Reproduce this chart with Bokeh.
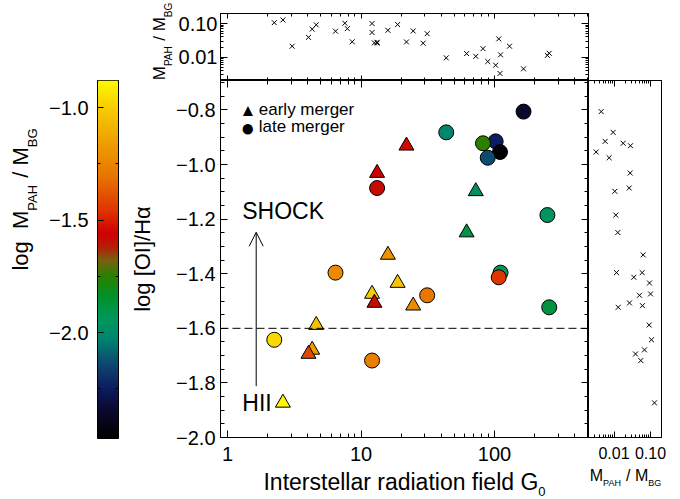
import numpy as np
from math import pi
from bokeh.plotting import figure
from bokeh.layouts import row, column
from bokeh.models import (ColumnDataSource, LinearColorMapper, LinearAxis, LogAxis, FixedTicker,
                          CustomJSTickFormatter, Span, Label, Arrow, OpenHead, Range1d)
from bokeh.embed import file_html
from bokeh.resources import INLINE

FONT = "Liberation Sans"
DESCENT = 0.212          # font descent, in em, used to sit text on its baseline

# ---------------------------------------------------------------- data
# galaxies with a [OI]/Halpha measurement
g0 = [165, 43.5, 102, 82, 21.9, 110, 89, 13.2, 13.2, 72.4, 249, 61.8, 15.9, 111,
      6.44, 107.6, 18.8, 31.3, 12.1, 12.6, 24.6, 257, 4.62, 2.24, 4.31, 4.04, 12.1, 2.6]
log_oi_ha = [-0.806, -0.882, -0.915, -0.922, -0.931, -0.954, -0.975, -1.031, -1.086, -1.098,
             -1.185, -1.249, -1.331, -1.396, -1.396, -1.413, -1.434, -1.479, -1.474, -1.507,
             -1.517, -1.523, -1.588, -1.642, -1.679, -1.694, -1.718, -1.873]
log_pah_bg = [-2.351, -2.023, -2.242, -1.749, -1.548, -2.489, -2.133, -1.557, -1.584, -1.978,
              -1.951, -1.896, -1.201, -1.932, -1.228, -1.457, -1.028, -1.302, -0.999, -1.576,
              -1.220, -1.886, -1.037, -0.973, -1.165, -1.411, -1.266, -0.891]
stage = ["late", "late", "late", "late", "early", "late", "late", "early", "late", "early",
         "late", "early", "early", "late", "late", "late", "early", "late", "early", "early",
         "early", "late", "early", "late", "early", "early", "late", "early"]

# galaxies without [OI]/Halpha (top panel only)
g0_extra = [3.05, 7.57, 7.9, 8.59, 29.2, 129.5]
log_pah_bg_extra = [-1.675, -0.99, -1.15, -1.544, -1.586, -1.675]

# axis ticks
g0_ticks = [1, 10, 100]
g0_minor = [2, 3, 4, 5, 6, 7, 8, 9, 20, 30, 40, 50, 60, 70, 80, 90, 200, 300, 400, 500]
oi_ticks = [-2.0, -1.8, -1.6, -1.4, -1.2, -1.0, -0.8]
ratio_ticks = [0.01, 0.1]
ratio_minor = [0.002, 0.003, 0.004, 0.005, 0.006, 0.007, 0.008, 0.009,
               0.02, 0.03, 0.04, 0.05, 0.06, 0.07, 0.08, 0.09, 0.2]
cb_ticks = [-2.0, -1.5, -1.0]
cb_minor = [-2.25, -1.75, -1.25]

# colour scale
cmap_low, cmap_high = -2.47, -0.88
cmap_levels = [-2.47, -2.34, -2.25, -2.14, -2.03, -1.94, -1.84, -1.75, -1.68,
               -1.62, -1.56, -1.45, -1.30, -1.15, -1.00, -0.88]
cmap_rgb = [(0, 0, 0), (10, 10, 48), (12, 28, 96), (14, 72, 112), (0, 132, 112),
            (0, 150, 92), (0, 146, 40), (40, 128, 0), (118, 98, 16),
            (180, 30, 6), (208, 0, 0), (222, 56, 0), (232, 118, 0), (238, 160, 0),
            (246, 204, 0), (255, 248, 0)]

divider_oi = -1.6
shock_xy = (1.29, -1.217)
hii_xy = (1.29, -1.922)
arrow_x, arrow_y0, arrow_y1 = 1.64, -1.812, -1.248

# ---------------------------------------------------------------- palette
levels = np.linspace(cmap_low, cmap_high, 256)
chan = [np.interp(levels, cmap_levels, [c[i] for c in cmap_rgb]) for i in range(3)]
palette = ["#%02x%02x%02x" % (int(round(r)), int(round(g)), int(round(b)))
           for r, g, b in zip(*chan)]
mapper = LinearColorMapper(palette=palette, low=cmap_low, high=cmap_high)

# ---------------------------------------------------------------- helpers
ARIAL = dict(zip("abcdefghijklmnopqrstuvwxyz",
                 [556, 556, 500, 556, 556, 278, 556, 556, 222, 222, 500, 222, 833, 556, 556,
                  556, 556, 333, 500, 278, 556, 500, 722, 500, 500, 500]))
ARIAL.update(dict(zip("ABCDEFGHIJKLMNOPQRSTUVWXYZ",
                      [667, 667, 722, 722, 667, 611, 778, 722, 278, 500, 667, 556, 833, 722,
                       778, 667, 778, 722, 667, 611, 722, 667, 944, 667, 667, 611])))
ARIAL.update({" ": 278, "/": 278, "[": 278, "]": 278, ".": 278, "0": 556, "\u03b1": 578})


def text_width(s, size):
    return sum(ARIAL.get(c, 556) for c in s) * size / 1000.0


def label_fig(w, h, left=0, right=0):
    """Blank figure used to hold axis titles (borders mirror the panel next to it)."""
    f = figure(width=w, height=h, title=None, x_axis_location=None, y_axis_location=None,
               output_backend="svg", toolbar_location=None,
               min_border_left=left, min_border_right=right, min_border_top=0, min_border_bottom=0)
    f.outline_line_color = None
    f.background_fill_color = "white"
    f.border_fill_color = "white"
    return f


def add_run(fig, frame_left, frame_bottom, pieces, anchor, vertical=False, sub_drop=0.38):
    """Draw a run of text pieces (text, size, is_subscript); anchor is page coords:
    horizontal -> (centre x, baseline y), vertical -> (baseline x, centre y)."""
    main_size = max(s for _, s, _ in pieces)
    widths = [text_width(t, s) for t, s, _ in pieces]
    total = sum(widths)
    a0, a1 = anchor
    off = 0.0
    for (t, s, sub), w in zip(pieces, widths):
        if t.strip():
            shift = (sub_drop * main_size if sub else 0.0) + DESCENT * s
            if vertical:
                X, Y = a0 + shift, a1 + total / 2 - off
            else:
                X, Y = a0 - total / 2 + off, a1 + shift
            fig.add_layout(Label(x=X - frame_left, y=frame_bottom - Y,
                                 x_units="screen", y_units="screen", text=t,
                                 angle=pi / 2 if vertical else 0, text_font=FONT,
                                 text_font_size=f"{s}px", text_align="left",
                                 text_baseline="bottom", text_color="black"))
        off += w


def style_axis(ax, major=7, minor=4, size="20px", standoff=5):
    ax.major_tick_in = major
    ax.major_tick_out = 0
    ax.minor_tick_in = minor
    ax.minor_tick_out = 0
    ax.axis_line_color = "black"
    ax.major_tick_line_color = "black"
    ax.minor_tick_line_color = "black"
    ax.major_label_text_font = FONT
    ax.major_label_text_font_size = size
    ax.major_label_text_color = "black"
    ax.major_label_standoff = standoff


def bare(ax):
    ax.major_label_text_font_size = "0px"
    ax.major_label_standoff = 0
    ax.formatter = CustomJSTickFormatter(code="return ''")


def base_style(p):
    p.outline_line_color = "black"
    p.outline_line_width = 1
    p.xgrid.visible = False
    p.ygrid.visible = False
    p.background_fill_color = "white"
    p.border_fill_color = "white"


one_dec = CustomJSTickFormatter(code="return (tick < 0 ? '\u2212' : '') + Math.abs(tick).toFixed(1)")
two_dec = CustomJSTickFormatter(code="return tick.toFixed(2)")
int_fmt = CustomJSTickFormatter(code="return tick.toFixed(0)")

oi_minor = [round(v, 2) for v in np.arange(-2.0, -0.69, 0.05)
            if min(abs(v - t) for t in oi_ticks) > 1e-6]

x_range = Range1d(0.886, 506)
y_range = Range1d(-2.0, -0.692)

MAIN_SUB = [("M", 0, False), ("PAH", 1, True), (" ", 0, False), ("/", 0, False),
            (" ", 0, False), ("M", 0, False), ("BG", 1, True)]


def mpah(big, small):
    return [(t, small if k else big, sub) for t, k, sub in MAIN_SUB]


# ---------------------------------------------------------------- main panel
# frame: x 220..588, y 80..437 on the page
main = figure(width=423, height=389, x_axis_type="log", x_range=x_range, y_range=y_range,
              output_backend="svg", toolbar_location=None,
              min_border_left=55, min_border_right=0, min_border_top=0, min_border_bottom=32)
base_style(main)
main.add_layout(LogAxis(), "above")
main.add_layout(LinearAxis(), "right")
for ax in main.xaxis:
    style_axis(ax, standoff=9)
    ax.ticker = FixedTicker(ticks=g0_ticks, minor_ticks=g0_minor)
    ax.formatter = int_fmt
for ax in main.yaxis:
    style_axis(ax, standoff=5)
    ax.ticker = FixedTicker(ticks=oi_ticks, minor_ticks=oi_minor)
    ax.formatter = one_dec
bare(main.above[0])
bare(main.right[0])

main.add_layout(Span(location=divider_oi, dimension="width", line_color="black",
                     line_width=1, line_dash="8 4"))
main.add_layout(Arrow(end=OpenHead(size=14, line_width=1, line_color="black"),
                      x_start=arrow_x, y_start=arrow_y0, x_end=arrow_x, y_end=arrow_y1,
                      line_width=1, line_color="black"))
for (lx, ly), txt in [(shock_xy, "SHOCK"), (hii_xy, "HII")]:
    main.add_layout(Label(x=lx, y=ly, text=txt, text_font=FONT, text_font_size="23px",
                          text_baseline="bottom", text_color="black"))


def subset(kind):
    idx = [i for i, s in enumerate(stage) if s == kind]
    return ColumnDataSource(dict(g0=[g0[i] for i in idx], oi=[log_oi_ha[i] for i in idx],
                                 pah=[log_pah_bg[i] for i in idx]))


fill = dict(field="pah", transform=mapper)
main.scatter("g0", "oi", source=subset("early"), marker="triangle", size=15,
             fill_color=fill, line_color="black", line_width=1)
main.scatter("g0", "oi", source=subset("late"), marker="circle", size=15,
             fill_color=fill, line_color="black", line_width=1)

# legend (symbol + text); symbol rows centred at page y 110.7 and 127.3
MF_L, MF_B = 220, 437
for sym, sym_size, sym_box_bottom, lab, lab_base in [("\u25b2", 17, 119.2, "early merger", 115),
                                                     ("\u25cf", 24, 140.7, "late merger", 131.7)]:
    main.add_layout(Label(x=247.3 - MF_L, y=MF_B - sym_box_bottom, x_units="screen",
                          y_units="screen", text=sym, text_font=FONT,
                          text_font_size=f"{sym_size}px", text_align="center",
                          text_baseline="bottom", text_color="black"))
    main.add_layout(Label(x=258.3 - MF_L, y=MF_B - (lab_base + DESCENT * 17), x_units="screen",
                          y_units="screen", text=lab, text_font=FONT, text_font_size="17px",
                          text_align="left", text_baseline="bottom", text_color="black"))

# axis titles of the main panel
main_ytitle = label_fig(35, 419)                   # page x 130..165, y 80..499
add_run(main_ytitle, 130, 499, [("log [OI]/H\u03b1", 22, False)], (150, 258.5), vertical=True)
main_xtitle = label_fig(423, 30, left=55)          # frame page x 220..588, y 469..499
add_run(main_xtitle, 220, 499, [("Interstellar radiation field G", 23, False), ("0", 13, True)],
        (404, 490), sub_drop=0.1)

# ---------------------------------------------------------------- top panel
# frame: x 220..588, y 13..80
top = figure(width=505, height=80, x_axis_type="log", y_axis_type="log", x_range=x_range,
             y_range=Range1d(0.002, 0.2), output_backend="svg", toolbar_location=None,
             min_border_left=45, min_border_right=92, min_border_top=13, min_border_bottom=0)
base_style(top)
top.add_layout(LogAxis(), "above")
top.add_layout(LogAxis(), "right")
for ax in top.xaxis:
    style_axis(ax, major=5, minor=3)
    ax.ticker = FixedTicker(ticks=g0_ticks, minor_ticks=g0_minor)
    bare(ax)
for ax in top.yaxis:
    style_axis(ax, major=7, minor=3, standoff=3)
    ax.ticker = FixedTicker(ticks=ratio_ticks, minor_ticks=ratio_minor)
    ax.formatter = two_dec
bare(top.right[0])
top.scatter(g0 + g0_extra, [10 ** v for v in log_pah_bg + log_pah_bg_extra],
            marker="x", size=7, line_color="black", line_width=1)
top_ytitle = label_fig(45, 80)                     # page x 130..175, y 0..80
add_run(top_ytitle, 130, 80, mpah(17, 10), (165, 41), vertical=True)

# ---------------------------------------------------------------- right panel
# frame: x 588..661, y 80..437
right = figure(width=92, height=384, x_axis_type="log", x_range=Range1d(0.002, 0.2),
               y_range=y_range, y_axis_location=None, output_backend="svg",
               toolbar_location=None, min_border_left=0, min_border_right=19,
               min_border_top=0, min_border_bottom=27)
base_style(right)
right.add_layout(LogAxis(), "above")
for ax in right.xaxis:
    style_axis(ax, major=6, minor=3, size="16px", standoff=9)
    ax.ticker = FixedTicker(ticks=ratio_ticks, minor_ticks=ratio_minor)
    ax.formatter = two_dec
bare(right.above[0])
right.scatter([10 ** v for v in log_pah_bg], log_oi_ha, marker="x", size=7,
              line_color="black", line_width=1)
right_xtitle = label_fig(92, 35, right=19)         # frame page x 588..661, y 464..499
add_run(right_xtitle, 588, 499, mpah(16, 9), (625, 480))

# ---------------------------------------------------------------- colour bar
# bar: x 97..118, y 80..438
cb = figure(width=85, height=499, x_range=Range1d(0, 1), y_range=Range1d(cmap_low, cmap_high),
            x_axis_location=None, output_backend="svg", toolbar_location=None,
            min_border_left=52, min_border_right=12, min_border_top=80, min_border_bottom=61)
base_style(cb)
grad = np.linspace(cmap_low, cmap_high, 256).reshape(-1, 1)
cb.image(image=[grad], x=0, y=cmap_low, dw=1, dh=cmap_high - cmap_low, color_mapper=mapper)
cb.add_layout(LinearAxis(), "right")
for ax in cb.yaxis:
    style_axis(ax, major=6, minor=3, standoff=9)
    ax.ticker = FixedTicker(ticks=cb_ticks, minor_ticks=cb_minor)
    ax.formatter = one_dec
cb.right[0].ticker = FixedTicker(ticks=cb_minor, minor_ticks=[])
cb.right[0].major_tick_in = 3
bare(cb.right[0])
cb_title = label_fig(45, 499)                      # page x 0..45
add_run(cb_title, 0, 499, [("log", 22, False), ("  ", 22, False)] + mpah(22, 13), (28, 260),
        vertical=True)

layout = row(cb_title, cb,
             column(row(top_ytitle, column(top)),
                    row(main_ytitle,
                        column(main, main_xtitle),
                        column(right, right_xtitle))))
open("out.html", "w").write(file_html(layout, INLINE))
